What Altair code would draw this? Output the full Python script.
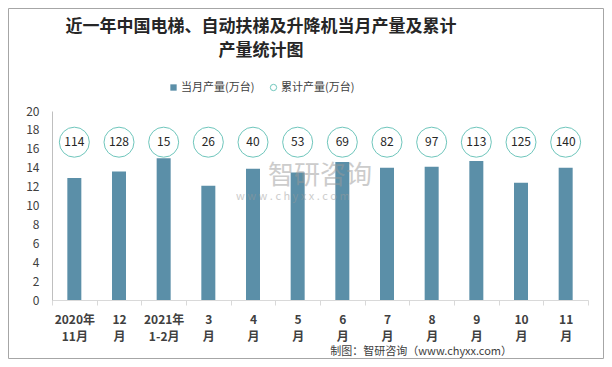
import altair as alt
import pandas as pd

months = ["2020年|11月", "12|月", "2021年|1-2月", "3|月", "4|月", "5|月",
          "6|月", "7|月", "8|月", "9|月", "10|月", "11|月"]
monthly = [12.9, 13.6, 15.0, 12.1, 13.9, 13.5, 14.6, 14.0, 14.1, 14.7, 12.4, 14.0]
cumulative = [114, 128, 15, 26, 40, 53, 69, 82, 97, 113, 125, 140]
circle_level = 16.7
y_ticks = [0, 2, 4, 6, 8, 10, 12, 14, 16, 18, 20]

S1 = "当月产量(万台)"
S2 = "累计产量(万台)"
BAR = "#5B8FA8"
RING = "#6FC6BC"
FONT = "Noto Sans CJK SC"

df = pd.DataFrame({"month": months, "monthly": monthly, "cum": cumulative,
                   "s1": S1, "s2": S2})

yaxis = alt.Axis(values=y_ticks, grid=False, ticks=False, labelOverlap=False,
                 domainColor="#BFBFBF", labelFont=FONT, labelFontSize=12,
                 labelColor="#404040", labelPadding=13)
yscale = alt.Scale(domain=[0, 20], nice=False)

xenc = alt.X("month:N", sort=months, title=None,
             scale=alt.Scale(paddingInner=0, paddingOuter=0),
             axis=alt.Axis(labelExpr="split(datum.label, '|')", labelAngle=0,
                           labelFont=FONT, labelFontSize=12, labelFontWeight="bold",
                           labelColor="#404040", labelLineHeight=17, labelPadding=9,
                           domainColor="#D9D9D9", tickColor="#D9D9D9", tickSize=5,
                           tickBand="extent", labelBaseline="top"))

bars = alt.Chart(df).mark_bar(size=14).encode(
    x=xenc,
    y=alt.Y("monthly:Q", title=None, scale=yscale, axis=yaxis),
    color=alt.Color("s1:N", scale=alt.Scale(domain=[S1], range=[BAR]),
                    legend=alt.Legend(title=None, orient="none", legendX=116, legendY=-29,
                                      symbolType="square", symbolSize=40,
                                      labelFont=FONT, labelFontSize=11,
                                      labelColor="#404040", padding=0, labelOffset=2)),
)

rings = alt.Chart(df).mark_point(shape="circle", size=900, fill="white",
                                 fillOpacity=1, opacity=1, strokeWidth=1).encode(
    x=alt.X("month:N", sort=months),
    y=alt.datum(circle_level, scale=yscale, axis=yaxis, title=None),
    stroke=alt.Stroke("s2:N", scale=alt.Scale(domain=[S2], range=[RING]),
                      legend=alt.Legend(title=None, orient="none", legendX=216, legendY=-29,
                                        symbolType="circle", symbolSize=40,
                                        symbolFillColor="white", symbolStrokeWidth=1,
                                        labelFont=FONT, labelFontSize=11,
                                        labelColor="#404040", padding=0, labelOffset=2)),
)

ring_text = alt.Chart(df).mark_text(font=FONT, fontSize=12, color="#262626").encode(
    x=alt.X("month:N", sort=months),
    y=alt.datum(circle_level, scale=yscale, axis=yaxis, title=None),
    text="cum:Q",
)

note = pd.DataFrame({"t": ["制图：智研咨询（www.chyxx.com）"]})
footer = alt.Chart(note).mark_text(font=FONT, fontSize=11, color="#404040",
                                   align="right", baseline="middle").encode(
    x=alt.value(460), y=alt.value(241), text="t:N")

wm = pd.DataFrame({"t": ["智研咨询"]})
wm2 = pd.DataFrame({"t": ["w w w . c h y x x . c o m"]})
water1 = alt.Chart(wm).mark_text(font=FONT, fontSize=26, color="#9A9A9A", opacity=0.5,
                                 align="left", baseline="middle").encode(
    x=alt.value(216), y=alt.value(65), text="t:N")
water2 = alt.Chart(wm2).mark_text(font=FONT, fontSize=11, color="#9A9A9A", opacity=0.5,
                                  align="left", baseline="middle").encode(
    x=alt.value(184), y=alt.value(86), text="t:N")

frame = alt.Chart(note).mark_rect(fill="transparent", stroke="#A6A6A6",
                                  strokeWidth=1, clip=False).encode(
    x=alt.value(-43.5), x2=alt.value(551.5), y=alt.value(-102.5), y2=alt.value(247.5))

chart = alt.layer(frame, bars, water1, water2, rings, ring_text, footer).properties(
    width=536, height=189,
    autosize=alt.AutoSizeParams(type="none"),
    padding={"left": 44, "top": 103, "right": 16, "bottom": 59},
    title=alt.TitleParams(["近一年中国电梯、自动扶梯及升降机当月产量及累计", "产量统计图"],
                          font=FONT, fontSize=17, fontWeight="bold", color="#262626",
                          anchor="middle", dx=-59, offset=-52, lineHeight=24),
).resolve_scale(color="independent").configure_view(stroke=None).configure_axis(
    labelOverlap=False)

chart.save("out.html", embed_options={"renderer": "svg", "actions": False})
